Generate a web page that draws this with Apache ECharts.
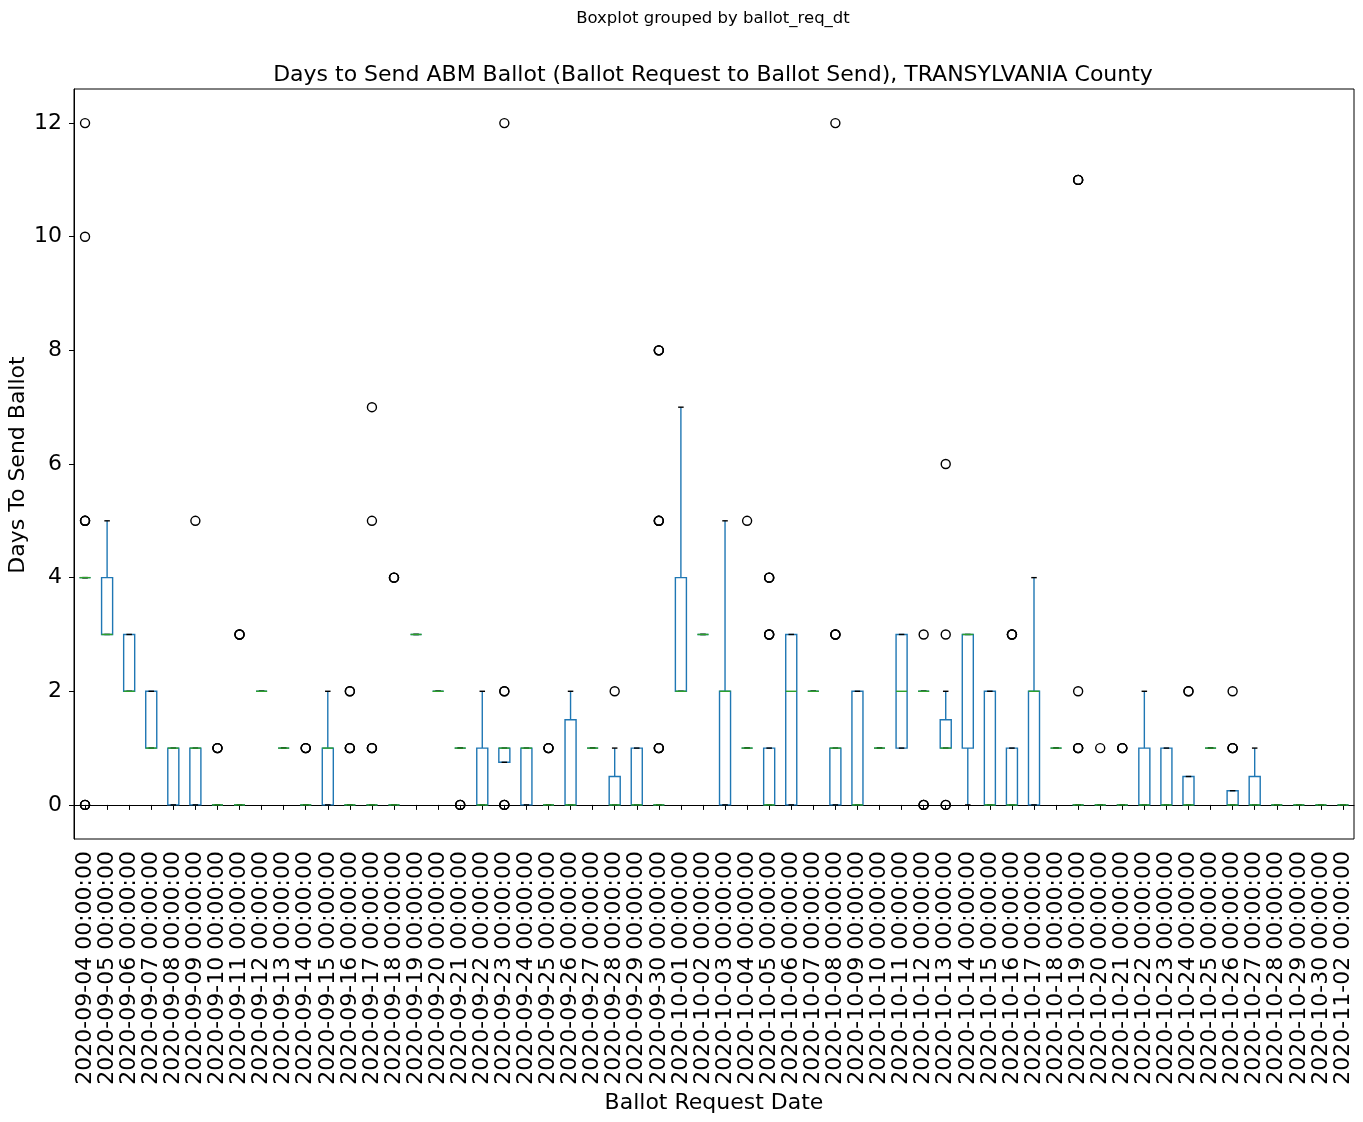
<!DOCTYPE html>
<html><head><meta charset="utf-8">
<script src="https://cdn.jsdelivr.net/npm/echarts@6/dist/echarts.min.js"></script>
<style>html,body{margin:0;padding:0;background:#fff}#chart{width:1363px;height:1122px}</style>
</head><body><div id="chart"></div>
<script>
const categories = [
  "2020-09-04 00:00:00","2020-09-05 00:00:00","2020-09-06 00:00:00","2020-09-07 00:00:00","2020-09-08 00:00:00",
  "2020-09-09 00:00:00","2020-09-10 00:00:00","2020-09-11 00:00:00","2020-09-12 00:00:00","2020-09-13 00:00:00",
  "2020-09-14 00:00:00","2020-09-15 00:00:00","2020-09-16 00:00:00","2020-09-17 00:00:00","2020-09-18 00:00:00",
  "2020-09-19 00:00:00","2020-09-20 00:00:00","2020-09-21 00:00:00","2020-09-22 00:00:00","2020-09-23 00:00:00",
  "2020-09-24 00:00:00","2020-09-25 00:00:00","2020-09-26 00:00:00","2020-09-27 00:00:00","2020-09-28 00:00:00",
  "2020-09-29 00:00:00","2020-09-30 00:00:00","2020-10-01 00:00:00","2020-10-02 00:00:00","2020-10-03 00:00:00",
  "2020-10-04 00:00:00","2020-10-05 00:00:00","2020-10-06 00:00:00","2020-10-07 00:00:00","2020-10-08 00:00:00",
  "2020-10-09 00:00:00","2020-10-10 00:00:00","2020-10-11 00:00:00","2020-10-12 00:00:00","2020-10-13 00:00:00",
  "2020-10-14 00:00:00","2020-10-15 00:00:00","2020-10-16 00:00:00","2020-10-17 00:00:00","2020-10-18 00:00:00",
  "2020-10-19 00:00:00","2020-10-20 00:00:00","2020-10-21 00:00:00","2020-10-22 00:00:00","2020-10-23 00:00:00",
  "2020-10-24 00:00:00","2020-10-25 00:00:00","2020-10-26 00:00:00","2020-10-27 00:00:00","2020-10-28 00:00:00",
  "2020-10-29 00:00:00","2020-10-30 00:00:00","2020-11-02 00:00:00"
];
const whiskerLow = [4,3,2,1,0,0,0,0,2,1, 0,0,0,0,0,3,2,1,0,0.75, 0,0,0,1,0,0,0,2,3,0, 1,0,0,2,0,0,1,1,2,1, 0,0,0,0,1,0,0,0,0,0, 0,1,0,0,0,0,0,0];
const q1         = [4,3,2,1,0,0,0,0,2,1, 0,0,0,0,0,3,2,1,0,0.75, 0,0,0,1,0,0,0,2,3,0, 1,0,0,2,0,0,1,1,2,1, 1,0,0,0,1,0,0,0,0,0, 0,1,0,0,0,0,0,0];
const median     = [4,3,2,1,1,1,0,0,2,1, 0,1,0,0,0,3,2,1,0,1, 1,0,0,1,0,0,0,2,3,2, 1,0,2,2,1,0,1,2,2,1, 3,0,0,2,1,0,0,0,0,0, 0,1,0,0,0,0,0,0];
const q3         = [4,4,3,2,1,1,0,0,2,1, 0,1,0,0,0,3,2,1,1,1, 1,0,1.5,1,0.5,1,0,4,3,2, 1,1,3,2,1,2,1,3,2,1.5, 3,2,1,2,1,0,0,0,1,1, 0.5,1,0.25,0.5,0,0,0,0];
const whiskerHigh= [4,5,3,2,1,1,0,0,2,1, 0,2,0,0,0,3,2,1,2,1, 1,0,2,1,1,1,0,7,3,5, 1,1,3,2,1,2,1,3,2,2, 3,2,1,4,1,0,0,0,2,1, 0.5,1,0.25,1,0,0,0,0];
const outliers = [
  [0,0,0,5,5,5,10,12], [], [], [], [], [5], [1,1,1], [3,3,3], [], [],
  [1,1,1], [], [1,1,1,2,2], [1,1,1,5,7], [4,4,4], [], [], [0,0,0], [], [0,0,0,2,2,12],
  [], [1,1,1], [], [], [2], [], [1,1,1,5,5,5,8,8,8], [], [], [],
  [5], [3,3,3,4,4,4], [], [], [3,3,3,12], [], [], [], [0,0,0,3], [0,0,3,6],
  [], [], [3,3,3], [], [], [1,1,1,2,11,11,11], [1], [1,1,1], [], [],
  [2,2], [], [1,1,1,2], [], [], [], [], []
];
const yTicks = [0, 2, 4, 6, 8, 10, 12];

const boxData = categories.map((c, i) => [i, whiskerLow[i], q1[i], median[i], q3[i], whiskerHigh[i]]);
const flierData = [];
outliers.forEach((arr, i) => arr.forEach(v => flierData.push([i, v])));

const BLUE = '#1f77b4', GREEN = '#2ca02c', LW = 1.4;
function renderBox(params, api) {
  const x = api.value(0);
  const lo = api.coord([x, api.value(1)]);
  const b1 = api.coord([x, api.value(2)]);
  const md = api.coord([x, api.value(3)]);
  const b3 = api.coord([x, api.value(4)]);
  const hi = api.coord([x, api.value(5)]);
  const w = api.size([1, 0])[0] * 0.5;
  const cw = w / 2;
  const cx = lo[0];
  return {
    type: 'group',
    children: [
      { type: 'rect', shape: { x: cx - w / 2, y: b3[1], width: w, height: b1[1] - b3[1] }, style: { fill: 'none', stroke: BLUE, lineWidth: LW } },
      { type: 'line', shape: { x1: cx, y1: b1[1], x2: cx, y2: lo[1] }, style: { stroke: BLUE, lineWidth: LW } },
      { type: 'line', shape: { x1: cx, y1: b3[1], x2: cx, y2: hi[1] }, style: { stroke: BLUE, lineWidth: LW } },
      { type: 'line', shape: { x1: cx - cw / 2, y1: lo[1], x2: cx + cw / 2, y2: lo[1] }, style: { stroke: '#000', lineWidth: LW } },
      { type: 'line', shape: { x1: cx - cw / 2, y1: hi[1], x2: cx + cw / 2, y2: hi[1] }, style: { stroke: '#000', lineWidth: LW } },
      { type: 'line', shape: { x1: cx - w / 2, y1: md[1], x2: cx + w / 2, y2: md[1] }, style: { stroke: GREEN, lineWidth: LW } }
    ]
  };
}

const chart = echarts.init(document.getElementById('chart'), null, { renderer: 'canvas' });
chart.setOption({
  animation: false,
  backgroundColor: '#fff',
  textStyle: { fontFamily: 'DejaVu Sans', color: '#000' },
  graphic: [
    { type: 'text', x: 713, y: 19, style: { text: 'Boxplot grouped by ballot_req_dt', font: '16.5px "DejaVu Sans"', fill: '#000', textAlign: 'center', textVerticalAlign: 'middle' } },
    { type: 'text', x: 713, y: 75, style: { text: 'Days to Send ABM Ballot (Ballot Request to Ballot Send), TRANSYLVANIA County', font: '22px "DejaVu Sans"', fill: '#000', textAlign: 'center', textVerticalAlign: 'middle' } },
    { type: 'text', x: 18, y: 465, rotation: Math.PI / 2, style: { text: 'Days To Send Ballot', font: '22px "DejaVu Sans"', fill: '#000', textAlign: 'center', textVerticalAlign: 'middle' } }
  ],
  grid: { left: 74, right: 9, top: 89, bottom: 283, show: true, borderColor: '#000', borderWidth: 1, backgroundColor: 'transparent', containLabel: false, outerBoundsMode: 'none' },
  xAxis: {
    type: 'category', data: categories, boundaryGap: true,
    name: 'Ballot Request Date', nameLocation: 'middle', nameGap: 251,
    nameTextStyle: { fontSize: 22, color: '#000', fontFamily: 'DejaVu Sans' },
    axisLine: { show: true, lineStyle: { color: '#000', width: 1 } },
    axisTick: { show: true, alignWithLabel: true, interval: 0, length: 5, lineStyle: { color: '#000' } },
    axisLabel: { interval: 0, rotate: 90, fontSize: 22, color: '#000', margin: 12, fontFamily: 'DejaVu Sans' },
    splitLine: { show: false }
  },
  yAxis: {
    type: 'value', min: -0.6, max: 12.6,
    axisLine: { show: true, lineStyle: { color: '#000', width: 1 } },
    axisTick: { show: true, length: 5, customValues: yTicks, lineStyle: { color: '#000' } },
    axisLabel: { customValues: yTicks, fontSize: 22, color: '#000', margin: 12, fontFamily: 'DejaVu Sans' },
    splitLine: { show: false }
  },
  series: [
    {
      type: 'custom', renderItem: renderBox, data: boxData, silent: true,
      encode: { x: 0, y: [1, 2, 3, 4, 5] }, clip: false
    },
    {
      type: 'scatter', data: flierData, symbol: 'circle', symbolSize: 9, silent: true,
      itemStyle: { color: 'rgba(0,0,0,0)', borderColor: '#000', borderWidth: 1.4, opacity: 1 },
      emphasis: { disabled: true }
    }
  ]
});
</script>
</body></html>
